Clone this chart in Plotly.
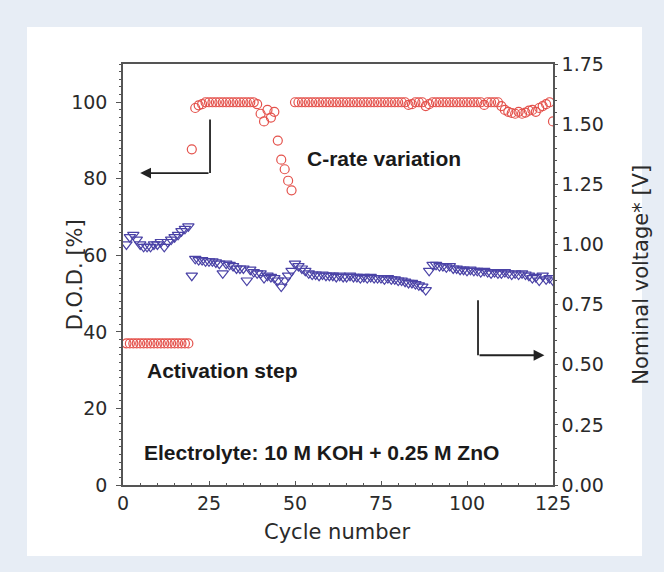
import plotly.graph_objects as go

# ---------------- data ----------------
cycles = list(range(1, 126))

dod = (
    [37.0] * 19
    + [87.7]
    + [98.5, 99.2, 99.5] + [100.0] * 15 + [99.5]
    + [97.0, 95.0, 98.0, 96.0, 97.5, 90.0, 85.0, 82.5, 79.5, 77.0]
    + [100.0] * 33
    + [99.3, 99.5, 100.0, 100.0, 100.0, 99.0, 99.5]
    + [100.0] * 15
    + [99.3, 100.0, 100.0, 100.0, 100.0]
    + [99.0, 98.0, 97.5, 97.2, 97.0, 97.5, 97.0, 97.3, 97.8, 98.0, 97.5, 98.5, 99.0, 99.5, 100.0, 95.0]
)

voltage = (
    [1.00, 1.03, 1.04, 1.02, 1.00, 0.99, 0.99, 0.99, 1.00, 1.00,
     1.01, 0.99, 1.01, 1.02, 1.03, 1.04, 1.055, 1.065, 1.075]
    + [0.87]
    + [0.94, 0.935, 0.935, 0.93, 0.93, 0.93, 0.925, 0.92, 0.88]
    + [0.92, 0.915, 0.91, 0.90, 0.90, 0.90, 0.85, 0.895, 0.885, 0.88,
       0.88, 0.86, 0.87, 0.865, 0.86, 0.85, 0.825, 0.85, 0.87, 0.89]
    + [0.92, 0.91, 0.90, 0.89, 0.88, 0.875, 0.875, 0.87, 0.875, 0.87,
       0.87, 0.87, 0.865, 0.87, 0.865, 0.865, 0.87, 0.865, 0.865, 0.86,
       0.865, 0.86, 0.865, 0.86, 0.86, 0.86, 0.855, 0.86, 0.855, 0.855,
       0.85, 0.85, 0.845, 0.84, 0.84, 0.835, 0.83, 0.825, 0.81]
    + [0.89, 0.915, 0.915, 0.91, 0.91, 0.905, 0.91, 0.90, 0.90, 0.895,
       0.895, 0.89, 0.895, 0.89, 0.89, 0.885, 0.89, 0.885, 0.88, 0.885,
       0.88, 0.88, 0.885, 0.88, 0.875, 0.88, 0.875, 0.88, 0.875, 0.87,
       0.86, 0.865, 0.85, 0.87, 0.855, 0.86, 0.85]
)

x_ticks = [0, 25, 50, 75, 100, 125]
y_ticks = [0, 20, 40, 60, 80, 100]
y2_ticks = [0.0, 0.25, 0.5, 0.75, 1.0, 1.25, 1.5, 1.75]
y2_labels = ["0.00", "0.25", "0.50", "0.75", "1.00", "1.25", "1.50", "1.75"]

RED = "#e4524c"
BLUE = "#4a42a6"
AX = "#555555"
TXT = "#2a2a2a"
TICKFONT = dict(family="DejaVu Sans", size=19, color=TXT)
XTITLEFONT = dict(family="DejaVu Sans", size=21, color=TXT)
YTITLEFONT = dict(family="DejaVu Sans", size=21, color=TXT)
BOLD = dict(family="Liberation Sans", size=21, color="#1a1a1a")

fig = go.Figure()
fig.add_trace(go.Scatter(
    x=cycles, y=dod, mode="markers", yaxis="y",
    marker=dict(symbol="circle-open", size=9, color=RED, line=dict(width=1.2, color=RED)),
    showlegend=False))
fig.add_trace(go.Scatter(
    x=cycles, y=voltage, mode="markers", yaxis="y2",
    marker=dict(symbol="triangle-down-open", size=10, color=BLUE, line=dict(width=1.2, color=BLUE)),
    showlegend=False))

# white inner panel
fig.add_shape(type="rect", xref="paper", yref="paper", x0=-0.2233, x1=1.207, y0=-0.1686, y1=1.088,
              fillcolor="white", line=dict(width=0), layer="below")

# L-shaped arrows
fig.add_shape(type="line", xref="x", yref="y", x0=25.3, x1=25.3, y0=95.5, y1=81.5,
              line=dict(color="#222", width=1.8))
fig.add_annotation(x=5.0, y=81.5, ax=25.3, ay=81.5, xref="x", yref="y", axref="x", ayref="y",
                   text="", showarrow=True, arrowhead=2, arrowsize=1.2, arrowwidth=1.8, arrowcolor="#222")
fig.add_shape(type="line", xref="x", yref="y", x0=103.2, x1=103.2, y0=48.3, y1=33.9,
              line=dict(color="#222", width=1.8))
fig.add_annotation(x=122.5, y=33.9, ax=103.2, ay=33.9, xref="x", yref="y", axref="x", ayref="y",
                   text="", showarrow=True, arrowhead=2, arrowsize=1.2, arrowwidth=1.8, arrowcolor="#222")

# labels in plot
fig.add_annotation(x=75.9, y=85.4, xref="x", yref="y", text="<b>C-rate variation</b>",
                   showarrow=False, font=BOLD, xanchor="center", yanchor="middle")
fig.add_annotation(x=28.8, y=30.0, xref="x", yref="y", text="<b>Activation step</b>",
                   showarrow=False, font=BOLD, xanchor="center", yanchor="middle")
fig.add_annotation(x=57.8, y=8.6, xref="x", yref="y", text="<b>Electrolyte: 10 M KOH + 0.25 M ZnO</b>",
                   showarrow=False, font=BOLD, xanchor="center", yanchor="middle")

# axis titles
fig.add_annotation(x=-0.112, y=0.50, xref="paper", yref="paper", text="D.O.D. [%]", textangle=-90,
                   showarrow=False, font=YTITLEFONT, xanchor="center", yanchor="middle")
fig.add_annotation(x=1.203, y=0.50, xref="paper", yref="paper", text="Nominal voltage* [V]", textangle=-90,
                   showarrow=False, font=YTITLEFONT, xanchor="center", yanchor="middle")
fig.add_annotation(x=0.498, y=-0.1116, xref="paper", yref="paper", text="Cycle number",
                   showarrow=False, font=XTITLEFONT, xanchor="center", yanchor="middle")

fig.update_layout(
    width=664, height=572,
    margin=dict(l=123, r=111, t=64, b=87),
    paper_bgcolor="#e7edf5", plot_bgcolor="white",
    xaxis=dict(range=[0, 125], tickvals=x_ticks, ticks="inside", ticklen=4, tickwidth=1.2, tickcolor=AX,
               showline=True, linecolor=AX, linewidth=1.5, mirror=True, showgrid=False, zeroline=False,
               tickfont=TICKFONT, minor=dict(dtick=5, ticks="inside", ticklen=2, tickcolor=AX)),
    yaxis=dict(range=[0, 110], tickvals=y_ticks, ticks="outside", ticklen=5, tickwidth=1.2, tickcolor=AX,
               showline=True, linecolor=AX, linewidth=1.5, showgrid=False, zeroline=False,
               ticklabelstandoff=5,
               tickfont=TICKFONT, minor=dict(dtick=2, ticks="outside", ticklen=2, tickcolor=AX)),
    yaxis2=dict(range=[0, 1.75], tickvals=y2_ticks, ticktext=y2_labels, overlaying="y", side="right",
                ticks="outside", ticklen=3, tickwidth=1.2, tickcolor=AX,
                showline=True, linecolor=AX, linewidth=1.5, showgrid=False, zeroline=False,
                tickfont=TICKFONT, minor=dict(dtick=0.05, ticks="outside", ticklen=2, tickcolor=AX)),
)

fig.write_html("out.html")
